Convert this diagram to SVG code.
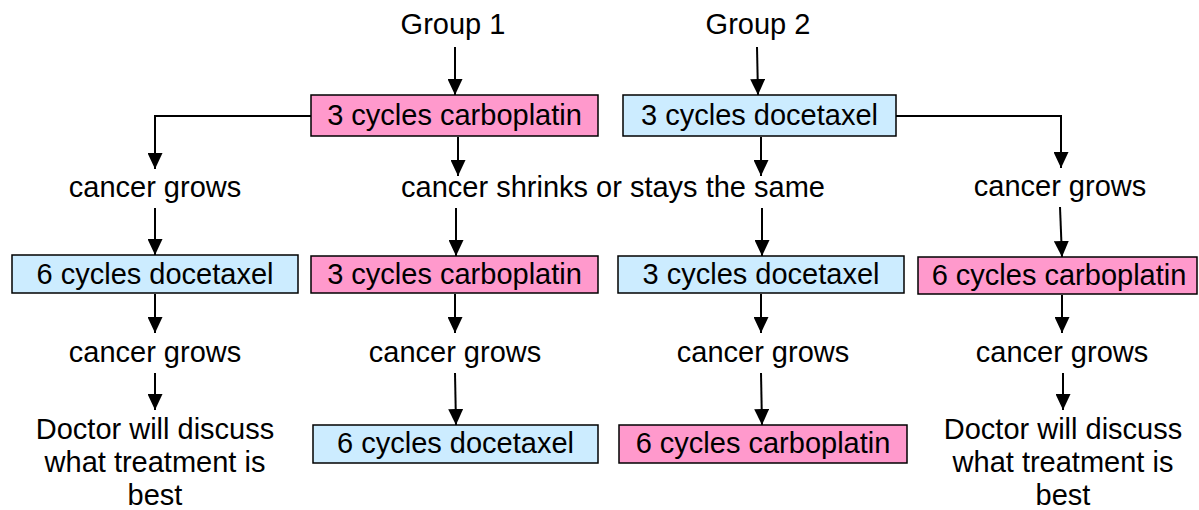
<svg xmlns="http://www.w3.org/2000/svg" width="1199" height="510" viewBox="0 0 1199 510">
<defs>
<marker id="ah" markerUnits="userSpaceOnUse" markerWidth="16" markerHeight="15" refX="16" refY="7.5" orient="auto">
<path d="M0,0 L16,7.5 L0,15 z" fill="#000"/>
</marker>
<style>
text{font-family:"Liberation Sans",Arial,sans-serif;font-size:29px;fill:#000;text-anchor:middle}
.pink{fill:#FF99CC;stroke:#000;stroke-width:1.5}
.blue{fill:#CCECFF;stroke:#000;stroke-width:1.5}
.c path{fill:none;stroke:#000;stroke-width:2;marker-end:url(#ah)}
</style>
</defs>
<rect width="1199" height="510" fill="#fff"/>
<g id="labels">
<text x="453" y="34">Group 1</text>
<text x="758" y="34">Group 2</text>
<text x="155" y="197">cancer grows</text>
<text x="613" y="197">cancer shrinks or stays the same</text>
<text x="1060" y="196">cancer grows</text>
<text x="155" y="362">cancer grows</text>
<text x="455" y="362">cancer grows</text>
<text x="763" y="362">cancer grows</text>
<text x="1062" y="362">cancer grows</text>
</g>
<g id="doctor-left">
<text x="155" y="439">Doctor will discuss</text>
<text x="155" y="472">what treatment is</text>
<text x="155" y="505">best</text>
</g>
<g id="doctor-right">
<text x="1063" y="439">Doctor will discuss</text>
<text x="1063" y="472">what treatment is</text>
<text x="1063" y="505">best</text>
</g>
<g id="b1"><rect class="pink" x="311" y="95" width="287" height="41"/><text x="454.5" y="125">3 cycles carboplatin</text></g>
<g id="b2"><rect class="blue" x="623" y="95" width="273" height="41"/><text x="759.5" y="125">3 cycles docetaxel</text></g>
<g id="b3"><rect class="blue" x="12" y="255" width="286" height="38"/><text x="155" y="284">6 cycles docetaxel</text></g>
<g id="b4"><rect class="pink" x="311" y="256" width="287" height="37"/><text x="454.5" y="284">3 cycles carboplatin</text></g>
<g id="b5"><rect class="blue" x="618" y="256" width="286" height="37"/><text x="761" y="284">3 cycles docetaxel</text></g>
<g id="b6"><rect class="pink" x="918" y="257" width="279" height="37"/><text x="1059" y="285">6 cycles carboplatin</text></g>
<g id="b7"><rect class="blue" x="313" y="425" width="285" height="38"/><text x="455.5" y="453">6 cycles docetaxel</text></g>
<g id="b8"><rect class="pink" x="619" y="425" width="288" height="38"/><text x="763" y="453">6 cycles carboplatin</text></g>
<g id="connectors" class="c">
<path d="M455,47 L455,95"/>
<path d="M757,47 L758,95"/>
<path d="M311,116 L155,116 L155,169"/>
<path d="M896,116 L1061,116 L1061,168"/>
<path d="M458,137 L458,176"/>
<path d="M761,137 L761,176"/>
<path d="M155,208 L155,255"/>
<path d="M456,208 L456,256"/>
<path d="M762,208 L762,256"/>
<path d="M1060,207 L1062,257"/>
<path d="M155,294 L155,333"/>
<path d="M455,294 L455,333"/>
<path d="M761,294 L761,333"/>
<path d="M1062,295 L1062,333"/>
<path d="M155,373 L155,410"/>
<path d="M455,373 L456,425"/>
<path d="M761,373 L762,425"/>
<path d="M1063,373 L1063,410"/>
</g>
</svg>
